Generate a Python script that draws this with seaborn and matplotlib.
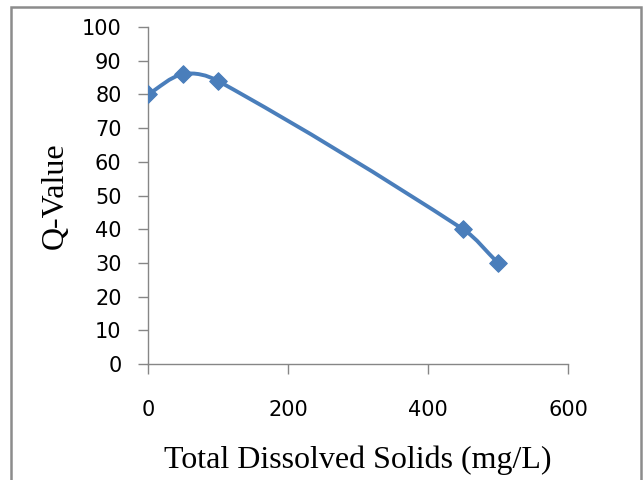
import numpy as np
import matplotlib
matplotlib.use("Agg")
import matplotlib.pyplot as plt
from matplotlib.path import Path
from matplotlib.patches import PathPatch, Rectangle
import seaborn as sns
import pandas as pd

# Total dissolved solids (mg/L) and the corresponding Q-value
tds = [0, 50, 100, 450, 500]
q_value = [80, 86, 84, 40, 30]
x_ticks = [0, 200, 400, 600]
y_ticks = [0, 10, 20, 30, 40, 50, 60, 70, 80, 90, 100]

sns.set_theme(style="white")
plt.rcParams["font.family"] = ["DejaVu Sans"]

BLUE = "#4A7EBB"
GRID = "#868686"

fig = plt.figure(figsize=(6.44, 4.80), dpi=100)
ax = fig.add_axes([148 / 644, 1 - 364 / 480, 420 / 644, 337 / 480])

df = pd.DataFrame({"tds": tds, "q": q_value})


def smooth_path(xs, ys, k=1 / 3):
    """Cubic Bezier path through the points; tangents follow the neighbouring
    chord direction and are scaled by the length of each segment."""
    pts = np.column_stack([xs, ys]).astype(float)
    n = len(pts)

    def direction(i):
        a = pts[max(i - 1, 0)]
        b = pts[min(i + 1, n - 1)]
        d = b - a
        return d / np.hypot(*d)

    verts = [pts[0]]
    codes = [Path.MOVETO]
    for i in range(n - 1):
        p1, p2 = pts[i], pts[i + 1]
        seg = np.hypot(*(p2 - p1))
        c1 = p1 + direction(i) * seg * k
        c2 = p2 - direction(i + 1) * seg * k
        verts += [c1, c2, p2]
        codes += [Path.CURVE4] * 3
    return Path(verts, codes)


ax.set_xlim(0, 600)
ax.set_ylim(0, 100)
# the smoothing is built in display space so the curve follows the drawn geometry
disp = ax.transData.transform(np.column_stack([tds, q_value]))
path_disp = smooth_path(disp[:, 0], disp[:, 1])
path_data = ax.transData.inverted().transform_path(path_disp)
ax.add_patch(PathPatch(path_data, facecolor="none", edgecolor=BLUE, lw=2.8,
                       capstyle="round", joinstyle="round", zorder=2))

sns.scatterplot(data=df, x="tds", y="q", ax=ax, marker="D", s=80,
                color=BLUE, edgecolor=BLUE, linewidth=0.8, zorder=3, legend=False)

ax.set_xlim(0, 600)
ax.set_ylim(0, 100)
ax.set_xticks(x_ticks)
ax.set_yticks(y_ticks)
ax.set_xticklabels([str(v) for v in x_ticks])
ax.set_yticklabels([str(v) for v in y_ticks])

for side in ["top", "right"]:
    ax.spines[side].set_visible(False)
for side in ["left", "bottom"]:
    ax.spines[side].set_color(GRID)
    ax.spines[side].set_linewidth(1.0)

ax.tick_params(axis="both", which="major", direction="out", length=7, width=1.0,
               color=GRID, labelsize=15, labelcolor="black",
               bottom=True, left=True)
ax.tick_params(axis="x", pad=19)
ax.tick_params(axis="y", pad=12)

ax.set_xlabel("Total Dissolved Solids (mg/L)", family="Liberation Serif",
              fontsize=23, color="black", labelpad=18)
ax.set_ylabel("Q-Value", family="Liberation Serif", fontsize=23,
              color="black", labelpad=9)

# outer chart frame
fig.patches.append(Rectangle((11 / 644, -0.02), 630 / 644, 1 - 7 / 480 + 0.02,
                             transform=fig.transFigure, fill=False,
                             edgecolor="#8C8C8C", linewidth=1.8))

fig.savefig("out.png", dpi=100)
